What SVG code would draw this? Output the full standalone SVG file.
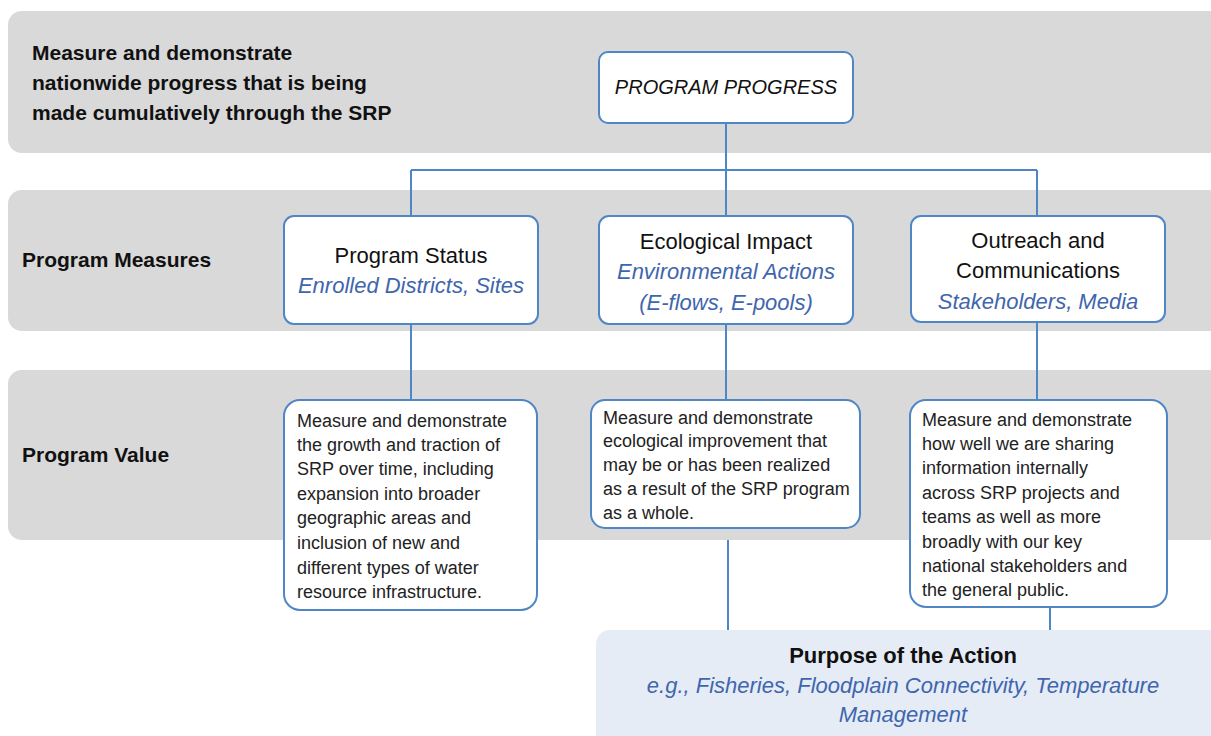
<svg xmlns="http://www.w3.org/2000/svg" width="1211" height="736" viewBox="0 0 1211 736">
  <style>
    .band { fill: #d9d9d9; }
    .box { fill: #ffffff; stroke: #4f86c6; stroke-width: 2; }
    .wire { fill: none; stroke: #4f86c6; stroke-width: 2; }
    .hd { font-family: "Liberation Sans", Arial, sans-serif; font-weight: bold; font-size: 21px; fill: #111; }
    .nm { font-family: "Liberation Sans", Arial, sans-serif; font-size: 22px; fill: #111; text-anchor: middle; }
    .sub { font-family: "Liberation Sans", Arial, sans-serif; font-size: 22px; font-style: italic; fill: #3f66ad; text-anchor: middle; }
    .body { font-family: "Liberation Sans", Arial, sans-serif; font-size: 18px; fill: #222; }
  </style>

  <!-- background bands -->
  <g id="bands">
    <rect class="band" x="8" y="11" width="1215" height="142" rx="14"/>
    <rect class="band" x="8" y="190" width="1215" height="141" rx="14"/>
    <rect class="band" x="8" y="370" width="1215" height="170" rx="14"/>
  </g>

  <!-- row labels -->
  <g id="row-labels">
    <text class="hd" x="32" y="60">Measure and demonstrate</text>
    <text class="hd" x="32" y="90">nationwide progress that is being</text>
    <text class="hd" x="32" y="120">made cumulatively through the SRP</text>
    <text class="hd" x="22" y="267">Program Measures</text>
    <text class="hd" x="22" y="462">Program Value</text>
  </g>

  <!-- connectors -->
  <g id="connectors">
    <path class="wire" d="M726 123 V170 M411 170 H1037 M411 170 V216 M726 170 V216 M1037 170 V216"/>
    <path class="wire" d="M411 324 V400 M726 324 V400 M1037 322 V400"/>
    <path class="wire" d="M728 540 V630 M1050 607 V630"/>
  </g>

  <g id="program-progress">
    <rect class="box" x="599" y="52" width="254" height="71" rx="9"/>
    <text class="nm" x="726" y="94" style="font-size:20px;font-style:italic">PROGRAM PROGRESS</text>
  </g>

  <g id="program-status">
    <rect class="box" x="284" y="216" width="254" height="108" rx="10"/>
    <text class="nm" x="411" y="263">Program Status</text>
    <text class="sub" x="411" y="293">Enrolled Districts, Sites</text>
  </g>

  <g id="ecological-impact">
    <rect class="box" x="599" y="216" width="254" height="108" rx="10"/>
    <text class="nm" x="726" y="249">Ecological Impact</text>
    <text class="sub" x="726" y="279">Environmental Actions</text>
    <text class="sub" x="726" y="310">(E-flows, E-pools)</text>
  </g>

  <g id="outreach">
    <rect class="box" x="911" y="216" width="254" height="106" rx="10"/>
    <text class="nm" x="1038" y="248">Outreach and</text>
    <text class="nm" x="1038" y="278">Communications</text>
    <text class="sub" x="1038" y="309">Stakeholders, Media</text>
  </g>

  <g id="value-status">
    <rect class="box" x="284" y="400" width="253" height="210" rx="16"/>
    <text class="body" x="297" y="427">Measure and demonstrate</text>
    <text class="body" x="297" y="451">the growth and traction of</text>
    <text class="body" x="297" y="475">SRP over time, including</text>
    <text class="body" x="297" y="500">expansion into broader</text>
    <text class="body" x="297" y="524">geographic areas and</text>
    <text class="body" x="297" y="549">inclusion of new and</text>
    <text class="body" x="297" y="574">different types of water</text>
    <text class="body" x="297" y="598">resource infrastructure.</text>
  </g>

  <g id="value-ecological">
    <rect class="box" x="591" y="400" width="269" height="128" rx="14"/>
    <text class="body" x="603" y="424">Measure and demonstrate</text>
    <text class="body" x="603" y="447">ecological improvement that</text>
    <text class="body" x="603" y="471">may be or has been realized</text>
    <text class="body" x="603" y="495">as a result of the SRP program</text>
    <text class="body" x="603" y="519">as a whole.</text>
  </g>

  <g id="value-outreach">
    <rect class="box" x="910" y="400" width="257" height="207" rx="16"/>
    <text class="body" x="922" y="426">Measure and demonstrate</text>
    <text class="body" x="922" y="450">how well we are sharing</text>
    <text class="body" x="922" y="474">information internally</text>
    <text class="body" x="922" y="499">across SRP projects and</text>
    <text class="body" x="922" y="523">teams as well as more</text>
    <text class="body" x="922" y="548">broadly with our key</text>
    <text class="body" x="922" y="572">national stakeholders and</text>
    <text class="body" x="922" y="596">the general public.</text>
  </g>

  <g id="purpose">
    <rect x="596" y="630" width="630" height="120" rx="14" fill="#e6ecf6"/>
    <text class="hd" x="903" y="663" style="text-anchor:middle;font-size:22px">Purpose of the Action</text>
    <text class="sub" x="903" y="693">e.g., Fisheries, Floodplain Connectivity, Temperature</text>
    <text class="sub" x="903" y="722">Management</text>
  </g>
</svg>
